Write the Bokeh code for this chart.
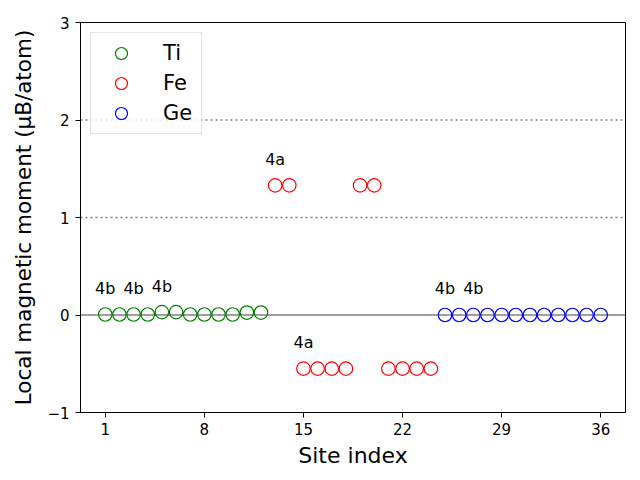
from bokeh.plotting import figure
from bokeh.models import Span, Legend, LegendItem, FixedTicker, Range1d, ColumnDataSource
from bokeh.core.properties import value
from bokeh.embed import file_html
from bokeh.resources import INLINE

# ---- data ----
ti_sites = [1, 2, 3, 4, 5, 6, 7, 8, 9, 10, 11, 12]
ti_moments = [0.005, 0.005, 0.005, 0.005, 0.03, 0.03, 0.005, 0.005, 0.005, 0.005, 0.025, 0.025]

fe_sites = [13, 14, 15, 16, 17, 18, 19, 20, 21, 22, 23, 24]
fe_moments = [1.33, 1.33, -0.55, -0.55, -0.55, -0.55, 1.33, 1.33, -0.55, -0.55, -0.55, -0.55]

ge_sites = [25, 26, 27, 28, 29, 30, 31, 32, 33, 34, 35, 36]
ge_moments = [0.0, 0.0, 0.0, 0.0, 0.0, 0.0, 0.0, 0.0, 0.0, 0.0, 0.0, 0.0]

label_sites = [1, 3, 5, 13, 15, 25, 27]
label_texts = ["4b", "4b", "4b", "4a", "4a", "4b", "4b"]
label_offset = 0.17

x_ticks = [1, 8, 15, 22, 29, 36]
y_ticks = [-1, 0, 1, 2, 3]
solid_levels = [0]
dotted_levels = [1, 2]

FONT = "DejaVu Sans"

p = figure(
    frame_width=545, frame_height=390,
    min_border_left=80, min_border_right=15, min_border_top=22, min_border_bottom=68,
    x_range=Range1d(-0.75, 37.75), y_range=Range1d(-1, 3),
    output_backend="svg", toolbar_location=None,
    background_fill_color="white", border_fill_color="white",
)
p.xgrid.visible = False
p.ygrid.visible = False
p.outline_line_color = "black"
p.outline_line_width = 1

for lv in solid_levels:
    p.add_layout(Span(location=lv, dimension="width", line_color="gray",
                      line_width=1.5, level="underlay"))
for lv in dotted_levels:
    p.add_layout(Span(location=lv, dimension="width", line_color="gray",
                      line_width=1.5, line_dash="2 3", level="underlay"))

r_ti = p.scatter(ti_sites, ti_moments, marker="circle", size=13.5, fill_color=None,
                 line_color="green", line_width=1.2)
r_fe = p.scatter(fe_sites, fe_moments, marker="circle", size=13.5, fill_color=None,
                 line_color="red", line_width=1.2)
r_ge = p.scatter(ge_sites, ge_moments, marker="circle", size=13.5, fill_color=None,
                 line_color="blue", line_width=1.2)

# site labels placed just above their markers
all_sites = ti_sites + fe_sites + ge_sites
all_moments = ti_moments + fe_moments + ge_moments
lookup = dict(zip(all_sites, all_moments))
label_y = [lookup[s] + label_offset for s in label_sites]
src = ColumnDataSource(dict(x=label_sites, y=label_y, t=label_texts))
p.text(x="x", y="y", text="t", source=src, text_font=value(FONT),
       text_font_size="16px", text_align="center", text_baseline="bottom",
       text_color="black")

legend = Legend(
    items=[LegendItem(label="Ti", renderers=[r_ti]),
           LegendItem(label="Fe", renderers=[r_fe]),
           LegendItem(label="Ge", renderers=[r_ge])],
    location="top_left", margin=10, padding=5, spacing=0,
    glyph_height=30, glyph_width=50, label_height=30, label_width=33,
    label_standoff=17,
    label_text_font=FONT, label_text_font_size="21px", label_text_color="black",
    border_line_color="#cccccc", border_line_width=1,
    background_fill_color="white", background_fill_alpha=0.8,
)
p.add_layout(legend)

for ax in (p.xaxis[0], p.yaxis[0]):
    ax.axis_line_color = "black"
    ax.major_tick_line_color = "black"
    ax.major_tick_out = 5
    ax.major_tick_in = 0
    ax.minor_tick_line_color = None
    ax.major_label_text_font = FONT
    ax.major_label_text_font_size = "15px"
    ax.major_label_text_color = "black"
    ax.axis_label_text_font = FONT
    ax.axis_label_text_font_style = "normal"
    ax.axis_label_text_color = "black"

p.xaxis.ticker = FixedTicker(ticks=x_ticks)
p.yaxis.ticker = FixedTicker(ticks=y_ticks)
p.yaxis.major_label_overrides = {-1: "\u22121"}
p.xaxis.major_label_standoff = 5
p.yaxis.major_label_standoff = 6
p.xaxis.axis_label = "Site index"
p.yaxis.axis_label = "Local magnetic moment (\u03bcB/atom)"
p.xaxis.axis_label_text_font_size = "22px"
p.yaxis.axis_label_text_font_size = "21.5px"
p.xaxis.axis_label_standoff = 5
p.yaxis.axis_label_standoff = 8

open("out.html", "w").write(file_html(p, INLINE))
